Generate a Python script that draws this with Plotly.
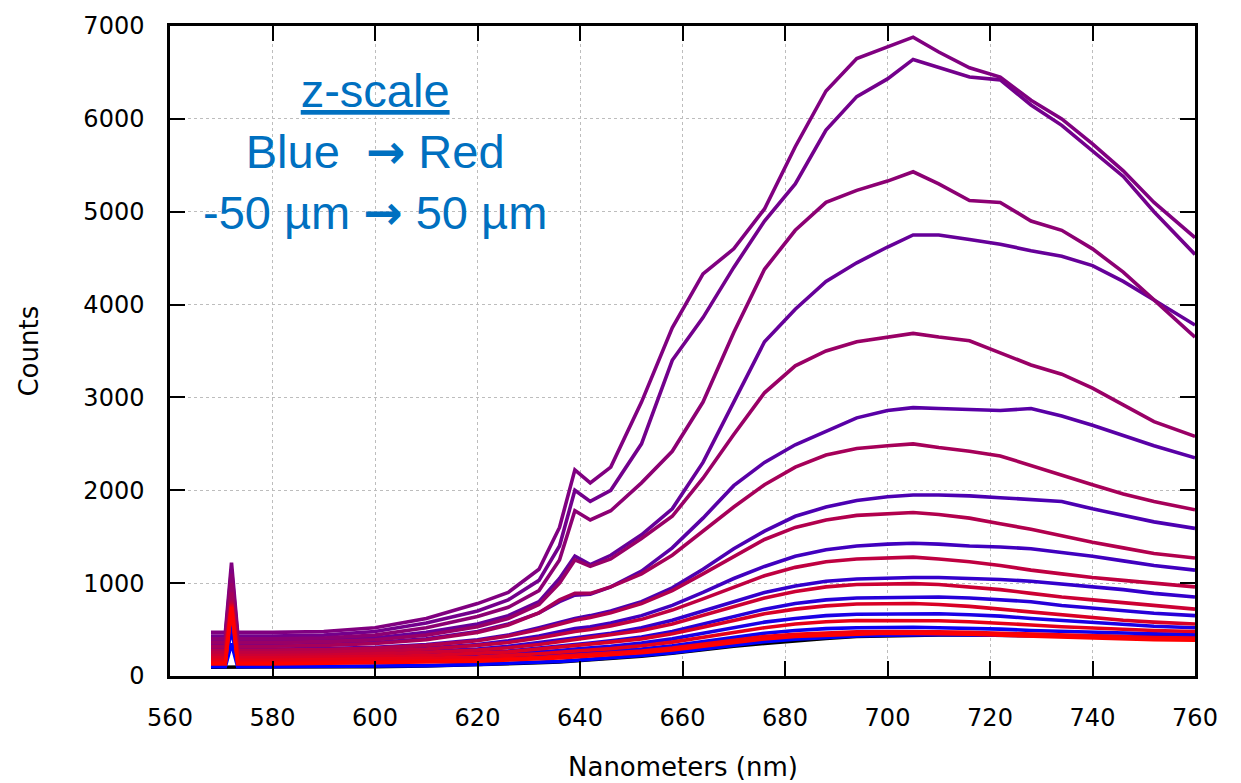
import plotly.graph_objects as go

# Wavelength sampling points (nm), shared by all spectra
wavelength_nm = [568, 570.8, 572, 573.2, 580, 590, 600, 610, 620, 626, 632, 636, 639,
                 642, 646, 652, 658, 664, 670, 676, 682, 688, 694, 700, 705, 710, 716,
                 722, 728, 734, 740, 746, 752, 760]

# Focal positions of the z-scan (µm), blue -> red
z_um = [-50, -45, -40, -35, -30, -25, -20, -15, -10, -5, 0,
        5, 10, 15, 20, 25, 30, 35, 40, 45, 50]

# Spectra (counts) for each z position
counts_m50 = [100, 100, 350, 100, 100, 102, 105, 112, 125, 135, 148, 158, 168, 178, 195, 220, 250, 290, 330, 370, 395, 415, 430, 440, 445, 445, 443, 440, 436, 432, 428, 424, 420, 415]
counts_m45 = [150, 150, 500, 150, 150, 155, 160, 170, 185, 200, 215, 230, 240, 250, 265, 290, 325, 370, 415, 460, 490, 510, 520, 525, 525, 520, 515, 505, 490, 480, 470, 460, 455, 450]
counts_m40 = [180, 180, 600, 180, 180, 185, 190, 200, 215, 235, 255, 275, 290, 300, 320, 355, 400, 460, 520, 580, 620, 650, 665, 670, 672, 670, 660, 645, 620, 600, 580, 555, 535, 520]
counts_m35 = [200, 200, 650, 200, 200, 205, 215, 230, 250, 270, 300, 320, 340, 355, 380, 420, 480, 560, 640, 720, 780, 820, 840, 845, 850, 850, 840, 820, 800, 760, 730, 700, 675, 650]
counts_m30 = [230, 230, 700, 230, 230, 235, 250, 265, 290, 320, 360, 390, 410, 430, 460, 520, 600, 700, 800, 900, 970, 1020, 1045, 1055, 1060, 1060, 1050, 1040, 1020, 990, 960, 930, 890, 850]
counts_m25 = [260, 260, 760, 260, 260, 265, 280, 300, 340, 380, 430, 480, 510, 530, 570, 650, 760, 900, 1050, 1180, 1290, 1360, 1400, 1420, 1430, 1420, 1400, 1390, 1370, 1330, 1290, 1240, 1190, 1140]
counts_m20 = [290, 290, 850, 290, 290, 295, 310, 340, 390, 440, 520, 580, 620, 650, 700, 800, 950, 1150, 1370, 1560, 1720, 1820, 1890, 1930, 1950, 1950, 1940, 1920, 1900, 1880, 1800, 1730, 1660, 1590]
counts_m15 = [330, 330, 950, 330, 330, 340, 360, 400, 480, 560, 680, 800, 870, 880, 960, 1130, 1380, 1700, 2050, 2300, 2490, 2640, 2780, 2860, 2890, 2880, 2870, 2860, 2880, 2800, 2700, 2590, 2480, 2350]
counts_m10 = [380, 380, 1050, 380, 380, 390, 410, 470, 560, 650, 800, 1050, 1290, 1200, 1300, 1520, 1800, 2300, 2950, 3600, 3950, 4250, 4450, 4620, 4750, 4750, 4700, 4650, 4580, 4520, 4420, 4250, 4050, 3780]
counts_m05 = [430, 430, 1150, 430, 430, 440, 480, 570, 700, 820, 1030, 1400, 2000, 1880, 2000, 2500, 3400, 3860, 4400, 4900, 5300, 5880, 6240, 6430, 6640, 6550, 6450, 6420, 6150, 5930, 5650, 5380, 5000, 4540]
counts_0 = [470, 470, 1220, 470, 470, 480, 520, 620, 780, 900, 1150, 1600, 2220, 2080, 2250, 2950, 3750, 4330, 4600, 5030, 5700, 6300, 6650, 6770, 6880, 6720, 6550, 6450, 6200, 6000, 5730, 5440, 5100, 4720]
counts_p05 = [400, 400, 1100, 400, 400, 410, 440, 520, 640, 740, 920, 1250, 1780, 1680, 1780, 2080, 2420, 2950, 3700, 4380, 4800, 5100, 5230, 5330, 5430, 5300, 5120, 5100, 4900, 4800, 4600, 4350, 4050, 3650]
counts_p10 = [360, 360, 1000, 360, 360, 370, 390, 440, 530, 620, 770, 1000, 1250, 1180, 1260, 1480, 1720, 2130, 2600, 3050, 3340, 3500, 3600, 3650, 3690, 3650, 3610, 3480, 3350, 3250, 3100, 2920, 2740, 2580]
counts_p15 = [320, 320, 900, 320, 320, 330, 350, 390, 470, 550, 680, 820, 890, 890, 960, 1100, 1300, 1560, 1820, 2060, 2250, 2380, 2450, 2480, 2500, 2460, 2420, 2370, 2270, 2170, 2060, 1960, 1880, 1790]
counts_p20 = [280, 280, 820, 280, 280, 285, 300, 330, 380, 430, 500, 560, 600, 630, 680, 780, 920, 1100, 1290, 1470, 1600, 1680, 1730, 1750, 1760, 1740, 1700, 1640, 1580, 1510, 1440, 1380, 1320, 1270]
counts_p25 = [250, 250, 800, 250, 250, 255, 270, 290, 330, 360, 410, 450, 480, 500, 540, 610, 710, 830, 960, 1080, 1170, 1230, 1260, 1270, 1280, 1260, 1230, 1190, 1140, 1100, 1060, 1030, 1000, 960]
counts_p30 = [220, 220, 780, 220, 220, 225, 240, 255, 280, 305, 340, 370, 390, 410, 440, 490, 560, 650, 740, 840, 910, 960, 985, 990, 995, 985, 960, 930, 890, 850, 820, 790, 760, 720]
counts_p35 = [195, 195, 770, 195, 195, 200, 210, 220, 240, 260, 290, 310, 325, 340, 365, 400, 455, 525, 600, 670, 720, 755, 775, 780, 780, 770, 750, 720, 690, 660, 630, 600, 580, 560]
counts_p40 = [170, 170, 760, 170, 170, 175, 180, 190, 205, 220, 240, 255, 270, 280, 295, 325, 365, 415, 470, 520, 560, 585, 598, 600, 600, 595, 585, 570, 550, 530, 515, 500, 490, 480]
counts_p45 = [145, 145, 750, 145, 145, 148, 150, 160, 175, 185, 200, 215, 225, 235, 250, 270, 300, 340, 385, 425, 450, 465, 475, 480, 480, 475, 470, 460, 450, 440, 430, 420, 415, 410]
counts_p50 = [130, 130, 740, 130, 130, 135, 140, 150, 160, 170, 185, 195, 205, 215, 230, 250, 280, 320, 360, 400, 425, 440, 450, 460, 460, 455, 450, 440, 430, 415, 405, 395, 390, 385]

# Background reference spectrum
counts_ref = [95, 95, 95, 95, 97, 98, 100, 108, 120, 130, 142, 150, 160, 170, 185, 212, 245, 285, 320, 350, 380, 405, 425, 435, 440, 442, 442, 440, 436, 432, 428, 425, 422, 418]

spectra = [counts_m50, counts_m45, counts_m40, counts_m35, counts_m30, counts_m25,
           counts_m20, counts_m15, counts_m10, counts_m05, counts_0, counts_p05,
           counts_p10, counts_p15, counts_p20, counts_p25, counts_p30, counts_p35,
           counts_p40, counts_p45, counts_p50]

x_ticks = [560, 580, 600, 620, 640, 660, 680, 700, 720, 740, 760]
y_ticks = [0, 1000, 2000, 3000, 4000, 5000, 6000, 7000]


def z_color(z):
    t = (z - z_um[0]) / (z_um[-1] - z_um[0])
    return "rgb(%d,0,%d)" % (round(255 * t), round(255 * (1 - t)))


fig = go.Figure()

fig.add_trace(go.Scatter(x=wavelength_nm, y=counts_ref, mode="lines",
                         line=dict(color="black", width=3.6), showlegend=False))

for z, counts in zip(z_um, spectra):
    fig.add_trace(go.Scatter(x=wavelength_nm, y=counts, mode="lines",
                             name="%d µm" % z,
                             line=dict(color=z_color(z), width=3.6),
                             showlegend=False))

axis_common = dict(
    showline=True, linecolor="black", linewidth=2.5, mirror="ticks",
    ticks="inside", ticklen=15, tickwidth=2, tickcolor="black",
    showgrid=True, gridcolor="#bdbdbd", gridwidth=1, griddash="dot",
    zeroline=False,
    tickfont=dict(family="DejaVu Sans", size=24, color="black"),
)

fig.update_xaxes(range=[560, 760], tickvals=x_ticks, ticklabelstandoff=18, **axis_common)
fig.update_yaxes(range=[0, 7000], tickvals=y_ticks, ticklabelstandoff=18, **axis_common)

arrow = '<span style="font-family:\'DejaVu Sans\';font-weight:bold">→</span>'
fig.add_annotation(text="<u>z-scale</u><br>Blue  %s Red<br>-50 µm %s 50 µm" % (arrow, arrow),
                   x=600, y=5640, xref="x", yref="y", showarrow=False,
                   xanchor="center", yanchor="middle", align="center",
                   font=dict(family="Liberation Sans, Arial", size=47, color="#0070C0"))

fig.add_annotation(text="Nanometers (nm)", xref="paper", yref="paper",
                   x=0.5, y=-0.14, showarrow=False, xanchor="center", yanchor="middle",
                   font=dict(family="DejaVu Sans", size=26, color="black"))
fig.add_annotation(text="Counts", xref="paper", yref="paper",
                   x=-0.138, y=0.5, showarrow=False, textangle=-90,
                   xanchor="center", yanchor="middle",
                   font=dict(family="DejaVu Sans", size=26, color="black"))

fig.update_layout(
    width=1241, height=783,
    margin=dict(l=170, r=46, t=16, b=107),
    paper_bgcolor="white", plot_bgcolor="white",
    showlegend=False,
)

fig.write_html("out.html")
